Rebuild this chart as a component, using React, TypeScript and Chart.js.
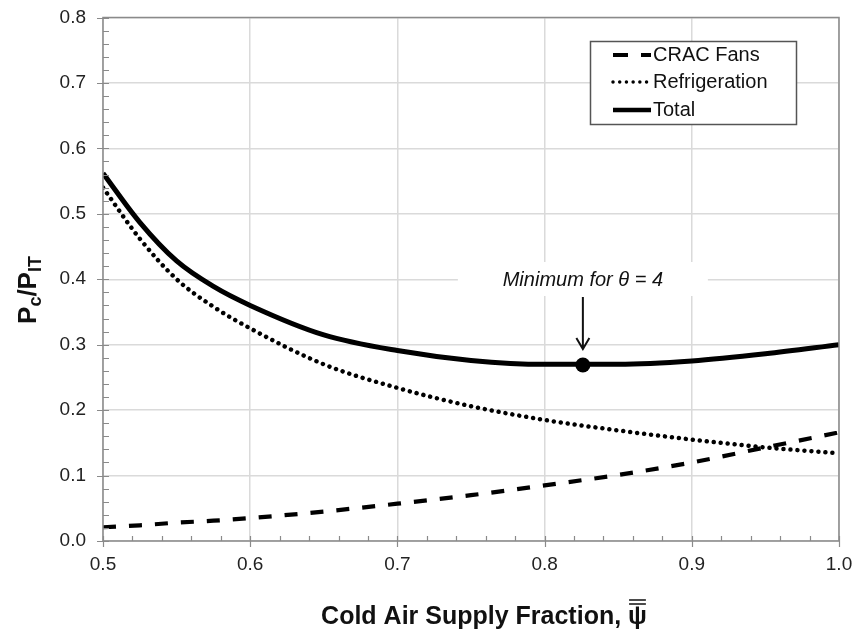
import React, { useEffect, useRef } from "react";
import { Chart, registerables } from "chart.js";

Chart.register(...registerables);

// Cold air supply fraction (x) and normalized cooling power components (y)
const psi = [0.5, 0.525, 0.55, 0.575, 0.6, 0.65, 0.7, 0.75, 0.8, 0.85, 0.9, 0.95, 1.0];
const cracFans = [0.021, 0.024, 0.028, 0.031, 0.035, 0.045, 0.057, 0.07, 0.085, 0.101, 0.12, 0.143, 0.166];
const refrigeration = [0.54, 0.462, 0.4, 0.358, 0.325, 0.27, 0.234, 0.206, 0.185, 0.169, 0.155, 0.143, 0.134];
const total = [0.562, 0.487, 0.428, 0.389, 0.36, 0.315, 0.291, 0.276, 0.27, 0.27, 0.275, 0.286, 0.3];

const minimumPsi = 0.826;
const minimumValue = 0.269;

const seriesLabels = ["CRAC Fans", "Refrigeration", "Total"];
const annotationText = "Minimum for \u03B8 = 4";
const xTitle = "Cold Air Supply Fraction, ";
const xTitleSymbol = "\u03C8";

const FONT = '"Liberation Sans", Arial, Helvetica, sans-serif';
const AXIS_GRAY = "#8a8a8a";
const GRID_GRAY = "#dadada";

const toPoints = (ys: number[]) => psi.map((x, i) => ({ x, y: ys[i] }));

// Keep the plot rectangle fixed: no extra room reserved for edge tick labels
const fixScale = (size: { width?: number; height?: number }) => (s: any) => {
  if (size.width !== undefined) s.width = size.width;
  if (size.height !== undefined) s.height = size.height;
  s.paddingTop = 0;
  s.paddingBottom = 0;
  s.paddingLeft = 0;
  s.paddingRight = 0;
};

// Draws the frame, inward minor ticks, legend box, annotation and axis titles
const decorations = {
  id: "decorations",
  beforeDatasetsDraw(chart: any) {
    const { ctx, scales } = chart;
    const cx = scales.x.getPixelForValue(minimumPsi);
    ctx.save();
    ctx.fillStyle = "#ffffff";
    ctx.fillRect(cx - 125, 262, 250, 34);
    ctx.restore();
  },
  afterDatasetsDraw(chart: any) {
    const { ctx, chartArea, scales } = chart;
    const { left, right, top, bottom } = chartArea;
    const xs = scales.x;
    const ys = scales.y;

    ctx.save();

    // frame
    ctx.strokeStyle = AXIS_GRAY;
    ctx.lineWidth = 1.5;
    ctx.strokeRect(left, top, right - left, bottom - top);

    // ticks: majors cross the axis, minors point inward
    ctx.lineWidth = 1.2;
    ctx.beginPath();
    for (let i = 0; i <= 25; i++) {
      const v = 0.5 + i * 0.02;
      const px = Math.round(xs.getPixelForValue(v)) + 0.5;
      const major = i % 5 === 0;
      ctx.moveTo(px, bottom + (major ? 6 : 0));
      ctx.lineTo(px, bottom - 5);
    }
    for (let i = 0; i <= 40; i++) {
      const v = i * 0.02;
      const py = Math.round(ys.getPixelForValue(v)) + 0.5;
      const major = i % 5 === 0;
      ctx.moveTo(left - (major ? 6 : 0), py);
      ctx.lineTo(left + 6, py);
    }
    ctx.stroke();

    // annotation: label and arrow pointing at the minimum
    const cx = xs.getPixelForValue(minimumPsi);
    const cy = ys.getPixelForValue(minimumValue);
    ctx.fillStyle = "#111";
    ctx.font = `italic 20px ${FONT}`;
    ctx.textAlign = "center";
    ctx.textBaseline = "middle";
    ctx.fillText(annotationText, cx, 280);
    const tip = cy - 16;
    ctx.strokeStyle = "#111";
    ctx.lineWidth = 2;
    ctx.beginPath();
    ctx.moveTo(cx, 297);
    ctx.lineTo(cx, tip);
    ctx.moveTo(cx - 6.5, tip - 11);
    ctx.lineTo(cx, tip);
    ctx.lineTo(cx + 6.5, tip - 11);
    ctx.stroke();

    // legend
    const lx = 590.5, ly = 41.5, lw = 206, lh = 83;
    ctx.fillStyle = "#ffffff";
    ctx.fillRect(lx, ly, lw, lh);
    ctx.strokeStyle = "#555";
    ctx.lineWidth = 1.5;
    ctx.strokeRect(lx, ly, lw, lh);
    const rows = [55, 82, 110];
    chart.data.datasets.slice(0, 3).forEach((ds: any, i: number) => {
      const y = rows[i];
      ctx.save();
      ctx.strokeStyle = "#000";
      ctx.lineWidth = ds.legendWidth;
      ctx.lineCap = ds.borderCapStyle || "butt";
      ctx.setLineDash(ds.legendDash || []);
      ctx.beginPath();
      ctx.moveTo(613, y);
      ctx.lineTo(651, y);
      ctx.stroke();
      ctx.restore();
      ctx.fillStyle = "#111";
      ctx.font = `20px ${FONT}`;
      ctx.textAlign = "left";
      ctx.textBaseline = "middle";
      ctx.fillText(ds.label, 653, y);
    });

    ctx.restore();
  },
  afterDraw(chart: any) {
    const { ctx } = chart;
    ctx.save();
    ctx.fillStyle = "#111";
    ctx.strokeStyle = "#111";

    // x-axis title with double-barred psi
    ctx.font = `bold 25px ${FONT}`;
    ctx.textAlign = "left";
    ctx.textBaseline = "alphabetic";
    const wMain = ctx.measureText(xTitle).width;
    const wSym = ctx.measureText(xTitleSymbol).width;
    const x0 = 484 - (wMain + wSym) / 2;
    const base = 624;
    ctx.fillText(xTitle, x0, base);
    ctx.fillText(xTitleSymbol, x0 + wMain, base);
    ctx.lineWidth = 1.5;
    ctx.beginPath();
    ctx.moveTo(x0 + wMain + 1, base - 20);
    ctx.lineTo(x0 + wMain + wSym - 1, base - 20);
    ctx.moveTo(x0 + wMain + 1, base - 24);
    ctx.lineTo(x0 + wMain + wSym - 1, base - 24);
    ctx.stroke();

    // y-axis title P_c / P_IT, rotated
    ctx.translate(36, 290);
    ctx.rotate(-Math.PI / 2);
    const big = `bold 26px ${FONT}`;
    const small = `bold 18px ${FONT}`;
    const parts = [
      { t: "P", f: big, dy: 0 },
      { t: "c", f: small, dy: 5 },
      { t: "/P", f: big, dy: 0 },
      { t: "IT", f: small, dy: 5 },
    ];
    let w = 0;
    parts.forEach((p) => {
      ctx.font = p.f;
      w += ctx.measureText(p.t).width;
    });
    let x = -w / 2;
    parts.forEach((p) => {
      ctx.font = p.f;
      ctx.fillText(p.t, x, p.dy);
      x += ctx.measureText(p.t).width;
    });
    ctx.restore();
  },
};

export default function App() {
  const canvasRef = useRef<HTMLCanvasElement | null>(null);

  useEffect(() => {
    const canvas = canvasRef.current;
    if (!canvas) return;
    const chart = new Chart(canvas, {
      type: "line",
      data: {
        datasets: [
          {
            label: seriesLabels[0],
            data: toPoints(cracFans),
            borderColor: "#000",
            borderWidth: 4.2,
            borderDash: [13, 13],
            borderCapStyle: "butt",
            pointRadius: 0,
            cubicInterpolationMode: "monotone",
            legendDash: [15, 13],
            legendWidth: 4,
          } as any,
          {
            label: seriesLabels[1],
            data: toPoints(refrigeration),
            borderColor: "#000",
            borderWidth: 4.5,
            borderDash: [0.01, 7],
            borderCapStyle: "round",
            pointRadius: 0,
            cubicInterpolationMode: "monotone",
            legendDash: [0.01, 6.7],
            legendWidth: 3.5,
          } as any,
          {
            label: seriesLabels[2],
            data: toPoints(total),
            borderColor: "#000",
            borderWidth: 5,
            pointRadius: 0,
            cubicInterpolationMode: "monotone",
            legendWidth: 4.5,
          } as any,
          {
            label: "minimum",
            data: [{ x: minimumPsi, y: minimumValue }],
            showLine: false,
            pointRadius: 7.5,
            pointBackgroundColor: "#000",
            pointBorderColor: "#000",
            pointBorderWidth: 0,
          } as any,
        ],
      },
      options: {
        animation: false,
        responsive: false,
        devicePixelRatio: 1,
        layout: { padding: { left: 0, top: 17.5, right: 20, bottom: 0 } },
        plugins: {
          legend: { display: false },
          tooltip: { enabled: false },
        },
        scales: {
          x: {
            type: "linear",
            min: 0.5,
            max: 1.0,
            afterFit: fixScale({ height: 95 }),
            ticks: {
              stepSize: 0.1,
              padding: 12.5,
              color: "#222",
              font: { family: FONT, size: 19 },
              callback: (v: any) => Number(v).toFixed(1),
            },
            grid: { color: GRID_GRAY, lineWidth: 1.5, drawTicks: false },
            border: { display: false },
          },
          y: {
            type: "linear",
            min: 0,
            max: 0.8,
            afterFit: fixScale({ width: 103 }),
            ticks: {
              stepSize: 0.1,
              padding: 17,
              color: "#222",
              font: { family: FONT, size: 19 },
              callback: (v: any) => Number(v).toFixed(1),
            },
            grid: { color: GRID_GRAY, lineWidth: 1.5, drawTicks: false },
            border: { display: false },
          },
        },
      },
      plugins: [decorations],
    });
    return () => chart.destroy();
  }, []);

  return (
    <div style={{ position: "absolute", left: 0, top: 0, width: 859, height: 636, background: "#fff" }}>
      <canvas ref={canvasRef} width={859} height={636} style={{ display: "block" }} />
    </div>
  );
}
